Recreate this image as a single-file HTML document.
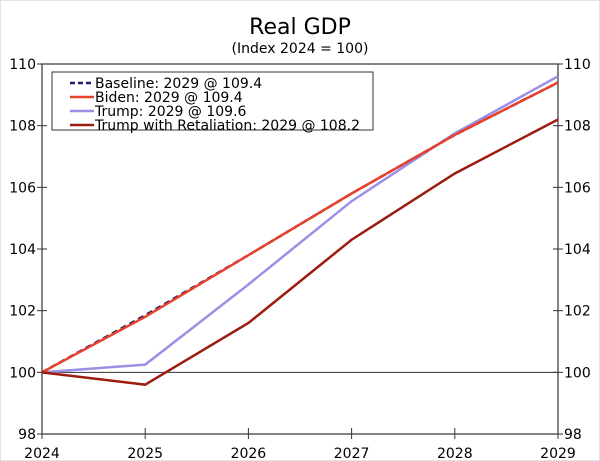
<!DOCTYPE html>
<html><head><meta charset="utf-8"><style>
body{margin:0;background:#fff;}
svg{display:block;font-family:"DejaVu Sans","Liberation Sans",sans-serif;}
</style></head><body>
<svg id="chart" width="600" height="461">
<rect x="0.5" y="0.5" width="599" height="460" fill="#fff" stroke="#e4e4e4"/>
<text x="300" y="34" text-anchor="middle" font-size="22">Real GDP</text>
<text x="300" y="53" text-anchor="middle" font-size="14">(Index 2024 = 100)</text>
<g id="axes"></g>
<g id="series"></g>
<g id="legend"></g>
</svg>
<script>
const years=[2024,2025,2026,2027,2028,2029];
const yTicks=[98,100,102,104,106,108,110];
const baseline=[100,101.85,103.8,105.8,107.7,109.4];
const biden=[100,101.8,103.8,105.8,107.7,109.4];
const trump=[100,100.25,102.85,105.55,107.75,109.6];
const retaliation=[100,99.6,101.6,104.3,106.45,108.2];
const seriesNames=["Baseline: 2029 @ 109.4","Biden: 2029 @ 109.4","Trump: 2029 @ 109.6","Trump with Retaliation: 2029 @ 108.2"];
const L=42,R=558,T=64,B=434;
const x=v=>L+(v-2024)/5*(R-L);
const y=v=>B-(v-98)/12*(B-T);
const NS="http://www.w3.org/2000/svg";
function mk(p,tag,attrs){const e=document.createElementNS(NS,tag);for(const k in attrs)e.setAttribute(k,attrs[k]);p.appendChild(e);return e;}
const ax=document.getElementById('axes');
let f=mk(ax,'rect',{x:L,y:T,width:R-L,height:B-T,fill:'none',stroke:'#333','stroke-width':1.2});


let zl=mk(ax,'line',{x1:L,x2:R,y1:y(100),y2:y(100),stroke:'#333','stroke-width':1});


yTicks.forEach(t=>{
 mk(ax,'line',{x1:L-5,x2:L+5,y1:y(t),y2:y(t),stroke:'#333'});
 mk(ax,'line',{x1:R-5,x2:R+5,y1:y(t),y2:y(t),stroke:'#333'});
 let a=mk(ax,'text',{x:L-6,y:y(t)+5,'text-anchor':'end','font-size':14});a.textContent=t;
 
 
 let b=mk(ax,'text',{x:R+6,y:y(t)+5,'font-size':14});b.textContent=t;
 
 
});
years.forEach(yr=>{
 mk(ax,'line',{x1:x(yr),x2:x(yr),y1:B-6,y2:B+5,stroke:'#333'});
 let a=mk(ax,'text',{x:x(yr),y:B+24,'text-anchor':'middle','font-size':14});a.textContent=yr;
 
 
});
const sg=document.getElementById('series');
const defs=[[baseline,'#1f1a6e','6,4','series-baseline'],[biden,'#e8412c',null,'series-biden'],[trump,'#9b8fe6',null,'series-trump'],[retaliation,'#9c1c10',null,'series-trump-retaliation']];
const order=[2,0,1,3];
order.forEach(i=>{
 const d=defs[i];
 const pts=d[0].map((v,j)=>x(years[j])+','+y(v)).join(' ');
 const a={points:pts,fill:'none',stroke:d[1],'stroke-width':2.5};
 if(d[2])a['stroke-dasharray']=d[2];
 let p=mk(sg,'polyline',a);
 
 
});
const lg=document.getElementById('legend');
let box=mk(lg,'rect',{x:52,y:72,width:321,height:58,fill:'#fff',stroke:'#333'});


seriesNames.forEach((n,i)=>{
 const yy=83+i*14;
 const a={x1:70,x2:94,y1:yy,y2:yy,stroke:defs[i][1],'stroke-width':2.5};
 if(defs[i][2])a['stroke-dasharray']='5,3';
 mk(lg,'line',a);
 let t=mk(lg,'text',{x:95,y:yy+5,'font-size':14});t.textContent=n;
 
 
});
</script>
</body></html>
